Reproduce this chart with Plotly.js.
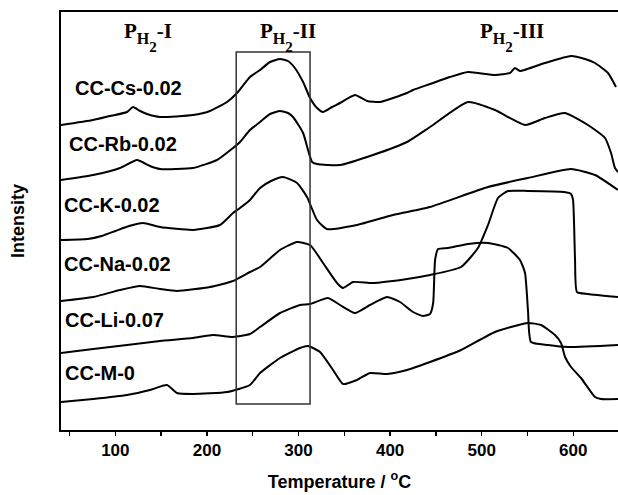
<!DOCTYPE html>
<html>
<head>
<meta charset="utf-8">
<script src="https://cdn.plot.ly/plotly-3.0.1.min.js"></script>
<style>html,body{margin:0;padding:0;background:#fff;}#chart{width:618px;height:495px;}</style>
</head>
<body>
<div id="chart"></div>
<script>
// Temperature (°C) and intensity (arbitrary units, stacked offsets as drawn)
const csT = [40.7,75.8,94.2,112.8,119.3,127,134.6,148.8,184.8,203.4,222,232.9,247,258,268.9,279.8,288.5,296,305,312.6,320.2,326.8,336.6,345.3,361.7,374.8,389,418.5,425,443.6,465.4,485,514.5,530.9,536.3,541.8,569,597.5,612.8,623.7,637.9,646.6];
const csI = [305,310,314,318,323,319,316,313,315,319,328,337,353,360,368,371,369,362,348,332,322,318,323,327,335,329,328,337,340,346,353,358,355,357,362,359,367,374,371,367,357,343];

const rbT = [40.7,75.8,105.1,123.7,137.8,148.8,184.8,211,228.5,236.1,247,258,268.9,279.8,288.5,294,305,310.4,314.8,320.2,345.3,381.3,418.5,443.6,485,514.5,547.3,569,590.9,616,634.6,641.2,645.5,648.8];
const rbI = [250,255,262,270,264,261,262,270,282,288,300,308,316,319,317,313,297,280,268,266,265,275,288,303,328,320,305,312,317,305,292,277,262,258];

const kT = [40.7,70,85,100,115,130.2,148.8,184.8,214.3,228.5,236.1,247,258,270,283,298.4,309.3,320.2,331.1,363.8,403.2,443.6,506.9,550.5,597.5,623.7,648.8];
const kI = [190,191,194,199,204,207,203,200,205,217,222,230,242,249,253,247,233,210,201,205,215,223,243,252,261,255,240];

const naT = [40.7,75.8,105.1,126.9,148.8,167.3,203.4,228.5,247,258,279.8,298.4,312.6,326.8,342,348.6,359.5,381.3,418.5,443.6,477.4,495.9,506.9,517.8,528.7,550.5,590,597.5,599.7,601.9,604,616,648.8];
const naI = [129,133,140,144,141,139,143,149,158,163,180,188,185,167,147,142,148,147,151,155,163,182,205,232,239,239,238,236,230,170,138,136,133];

const liT = [40.7,75.8,112.8,148.8,184.8,206.6,228.5,247,258,279.8,301.6,312.6,332.2,345.3,361.7,378,396.6,410.8,425,436,443.6,447,449.1,452.4,463.3,485,506.9,528.7,541.8,547.3,550.5,553.8,572.4,594.2,648.8];
const liI = [77,81,85,89,92,95,93,96,103,117,125,126,132,125,117,125,133,128,118,114,116,127,170,181,182,186,187,182,170,157,120,88,85,83,85];

const mT = [40.7,75.8,112.8,137.8,156.4,167.3,184.8,222,247,258,279.8,301.6,310.4,323.5,337.7,348.6,363.8,378,396.6,418.5,443.6,477.4,514.5,550.5,564.7,580,586.6,591,597.5,608.4,623.7,630.3,648.8];
const mI = [28,31,35,40,45,37,36,38,45,57,72,82,84,78,60,46,50,57,56,60,68,80,98,107,105,95,87,73,63,52,33,31,31];

const seriesNames = ['CC-Cs-0.02','CC-Rb-0.02','CC-K-0.02','CC-Na-0.02','CC-Li-0.07','CC-M-0'];
const seriesT = [csT, rbT, kT, naT, liT, mT];
const seriesI = [csI, rbI, kI, naI, liI, mI];
const labelT = [53.8, 47.3, 41.8, 41.8, 42.9, 42.9];
const labelI = [342, 286, 225, 166, 110, 57];

const peakRoman = ['I', 'II', 'III'];
const peakT = [107.3, 255.8, 495.9];
const peakI = [393, 393, 393];

const boxT = [232, 312.6];
const boxI = [26, 378];

const tickVals = [100,200,300,400,500,600];
const tickText = ['100','200','300','400','500','600'];
const minorVals = [50,150,250,350,450,550];

const traces = seriesNames.map((n, i) => ({
  x: seriesT[i], y: seriesI[i], name: n, type: 'scatter', mode: 'lines',
  line: {color: '#000', width: 2, shape: 'spline', smoothing: 0.5},
  hoverinfo: 'skip'
}));

function peakText(r) {
  return '<span style="font-size:21px">P</span><sub><span style="font-size:16px">H</span>' +
    '<sub><sub><span style="font-size:15px">2</span></sub></sub></sub>' +
    '<span style="font-size:21px">-' + r + '</span>';
}

const annotations = seriesNames.map((n, i) => ({
  x: labelT[i], y: labelI[i], xref: 'x', yref: 'y', text: n, showarrow: false,
  xanchor: 'left', yanchor: 'middle',
  font: {family: 'Liberation Sans, Arial, sans-serif', size: 20, weight: 'bold', color: '#000'}
})).concat(peakRoman.map((r, i) => ({
  x: peakT[i], y: peakI[i], xref: 'x', yref: 'y', text: peakText(r), showarrow: false,
  xanchor: 'left', yanchor: 'middle',
  font: {family: 'Liberation Serif, Times New Roman, serif', size: 30, weight: 'bold', color: '#000'}
})));

const layout = {
  width: 618, height: 495,
  margin: {l: 61, r: 0, t: 12, b: 65},
  paper_bgcolor: '#fff', plot_bgcolor: '#fff',
  showlegend: false,
  xaxis: {
    range: [40.7, 648.8], showgrid: false, zeroline: false,
    showline: true, linecolor: '#000', linewidth: 2, mirror: true,
    ticks: 'outside', ticklen: 4, tickwidth: 1.5, tickcolor: '#000',
    tickvals: tickVals, ticktext: tickText,
    minor: {tickvals: minorVals, ticks: 'outside', ticklen: 4, tickwidth: 1.5, tickcolor: '#000', showgrid: false},
    tickfont: {family: 'Liberation Sans, Arial, sans-serif', size: 17, weight: 'bold', color: '#000'},
    title: {text: 'Temperature / <sup>o</sup>C', standoff: 16,
      font: {family: 'Liberation Sans, Arial, sans-serif', size: 18, weight: 'bold', color: '#000'}}
  },
  yaxis: {
    range: [0, 418], showgrid: false, zeroline: false,
    showline: true, linecolor: '#000', linewidth: 2, mirror: false,
    ticks: '', showticklabels: false,
    title: {text: 'Intensity', standoff: 30,
      font: {family: 'Liberation Sans, Arial, sans-serif', size: 18, weight: 'bold', color: '#000'}}
  },
  shapes: [{type: 'rect', xref: 'x', yref: 'y', x0: boxT[0], x1: boxT[1], y0: boxI[0], y1: boxI[1],
    line: {color: '#333', width: 1.5}}],
  annotations: annotations
};

Plotly.newPlot('chart', traces, layout, {staticPlot: true, displayModeBar: false});
</script>
</body>
</html>
